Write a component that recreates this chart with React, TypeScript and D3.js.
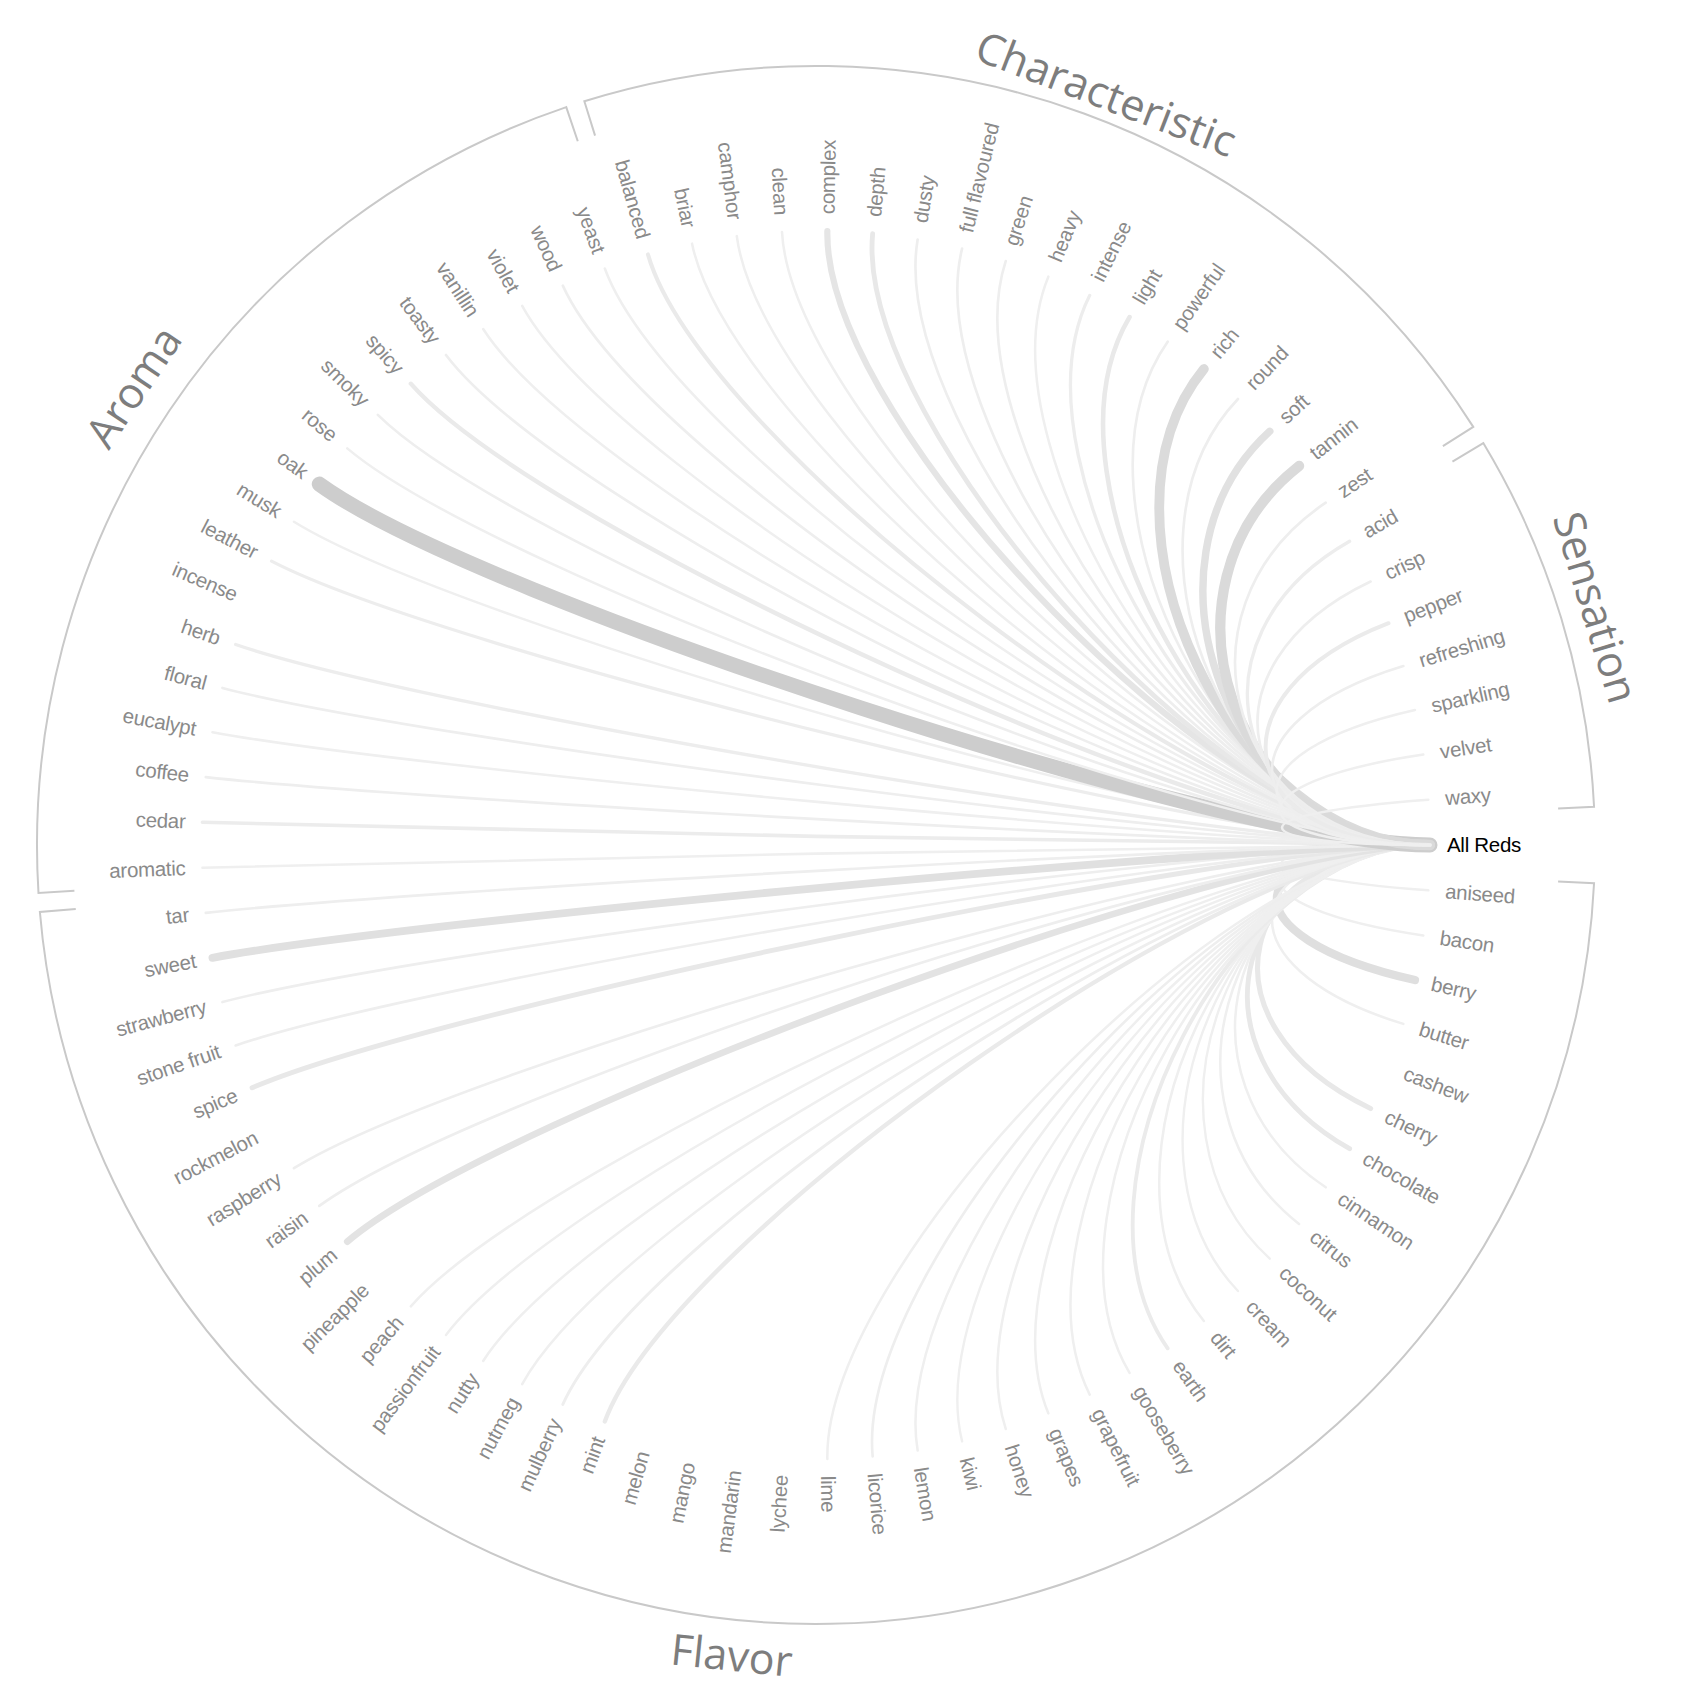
import React from "react";
import * as d3 from "d3";

const sourceName = "All Reds";

const flavorTerms = ["aniseed","bacon","berry","butter","cashew","cherry","chocolate","cinnamon","citrus","coconut","cream","dirt","earth","gooseberry","grapefruit","grapes","honey","kiwi","lemon","licorice","lime","lychee","mandarin","mango","melon","mint","mulberry","nutmeg","nutty","passionfruit","peach","pineapple","plum","raisin","raspberry","rockmelon","spice","stone fruit","strawberry","sweet","tar"];
const flavorValues = [4,4,48,4,0,24,22,4,4,3,3,4,14,4,4,4,4,3,4,5,4,0,0,0,0,18,7,4,4,3,4,0,36,5,5,0,22,5,5,45,5];

const aromaTerms = ["aromatic","cedar","coffee","eucalypt","floral","herb","incense","leather","musk","oak","rose","smoky","spicy","toasty","vanillin","violet","wood","yeast"];
const aromaValues = [4,12,5,4,5,10,0,9,4,100,4,5,18,5,4,4,5,4];

const characteristicTerms = ["balanced","briar","camphor","clean","complex","depth","dusty","full flavoured","green","heavy","intense","light","powerful","rich","round","soft","tannin","zest"];
const characteristicValues = [16,4,4,4,32,22,5,5,5,4,10,20,5,60,5,42,64,5];

const sensationTerms = ["acid","crisp","pepper","refreshing","sparkling","velvet","waxy"];
const sensationValues = [10,5,15,5,4,4,4];

const groupNames = ["Flavor","Aroma","Characteristic","Sensation"];
const groupTerms = [flavorTerms, aromaTerms, characteristicTerms, sensationTerms];
const groupValues = [flavorValues, aromaValues, characteristicValues, sensationValues];
const titleShift = [7, 0, 1, 0];
const titleRadius = [815, 822, 805, 815];

type Node = { name: string; group: number; value: number; index: number };

export default function App() {
  const W = 1700, H = 1700;
  const cx = 816, cy = 845;
  const R = 614;
  const labelR = R + 17;
  const bracketR = 779;
  const tickLen = 36;
  const k = 0.68;
  const pad = 0.7;

  const nodes: Node[] = [{ name: sourceName, group: -1, value: 0, index: 0 }];
  groupTerms.forEach((terms, g) =>
    terms.forEach((t, i) => nodes.push({ name: t, group: g, value: groupValues[g][i], index: nodes.length }))
  );
  const N = nodes.length;
  const angle = d3.scaleLinear().domain([0, N]).range([0, 360]);
  const step = angle(1);
  const rad = (a: number) => (a * Math.PI) / 180;
  const pt = (a: number, r: number): [number, number] => [cx + r * Math.cos(rad(a)), cy + r * Math.sin(rad(a))];

  const maxV = d3.max(nodes, (d) => d.value) as number;
  const widthScale = d3.scaleLinear().domain([0, maxV]).range([2, 15]);
  const colorScale = d3.scaleLinear<string>().domain([0, maxV]).range(["#f0f0f0", "#cdcdcd"]);

  const src = nodes[0];
  const a0 = angle(src.index);
  const [sx, sy] = pt(a0, R);
  const [c1x, c1y] = pt(a0, R * k);

  const links = nodes
    .filter((d) => d.index > 0 && d.value > 0)
    .map((d) => {
      const a = angle(d.index);
      const [tx, ty] = pt(a, R);
      const [c2x, c2y] = pt(a, R * k);
      const p = d3.path();
      p.moveTo(sx, sy);
      p.bezierCurveTo(c1x, c1y, c2x, c2y, tx, ty);
      return { d: p.toString(), w: widthScale(d.value), c: colorScale(d.value), name: d.name };
    });

  const brackets = groupNames.map((name, g) => {
    const members = nodes.filter((n) => n.group === g);
    const first = d3.min(members, (n) => n.index) as number;
    const last = d3.max(members, (n) => n.index) as number;
    const aStart = angle(first) - step / 2 + pad;
    const aEnd = angle(last) + step / 2 - pad;
    const [x0, y0] = pt(aStart, bracketR - tickLen);
    const [x1, y1] = pt(aStart, bracketR);
    const [x2, y2] = pt(aEnd, bracketR);
    const [x3, y3] = pt(aEnd, bracketR - tickLen);
    const large = aEnd - aStart > 180 ? 1 : 0;
    const d = `M${x0},${y0}L${x1},${y1}A${bracketR},${bracketR} 0 ${large} 1 ${x2},${y2}L${x3},${y3}`;
    let mid = (aStart + aEnd) / 2 + titleShift[g];
    mid = ((mid % 360) + 360) % 360;
    const bottom = mid > 0 && mid < 180;
    const transform = `translate(${cx},${cy}) rotate(${mid}) translate(${titleRadius[g]},0) rotate(${bottom ? -90 : 90})`;
    return { name, d, transform };
  });

  return (
    <div style={{ position: "absolute", left: 0, top: 0 }}>
      <svg width={W} height={H} viewBox={`0 0 ${W} ${H}`} style={{ display: "block", background: "#fff" }}>
        <g fill="none" strokeLinecap="round">
          {links.map((l) => (
            <path key={l.name} d={l.d} stroke={l.c} strokeWidth={l.w} />
          ))}
        </g>
        <g>
          {brackets.map((b) => (
            <path key={b.name} d={b.d} fill="none" stroke="#c9c9c9" strokeWidth={2} />
          ))}
        </g>
        <g fontFamily="'Open Sans', sans-serif" fontSize={43} fill="#7d7d7d">
          {brackets.map((b) => (
            <text key={b.name} transform={b.transform} textAnchor="middle" dy="0.35em">
              {b.name}
            </text>
          ))}
        </g>
        <g fontFamily="'Liberation Sans', Arial, Helvetica, sans-serif" fontSize={20.5}>
          {nodes.map((n) => {
            const a = angle(n.index);
            const flip = a > 90 && a < 270;
            return (
              <text
                key={n.name}
                transform={`translate(${cx},${cy}) rotate(${a}) translate(${labelR},0)${flip ? " rotate(180)" : ""}`}
                textAnchor={flip ? "end" : "start"}
                dy="0.33em"
                fill={n.index === 0 ? "#000" : "#8a8a8a"}
                letterSpacing="-0.3px"
              >
                {n.name}
              </text>
            );
          })}
        </g>
      </svg>
    </div>
  );
}
